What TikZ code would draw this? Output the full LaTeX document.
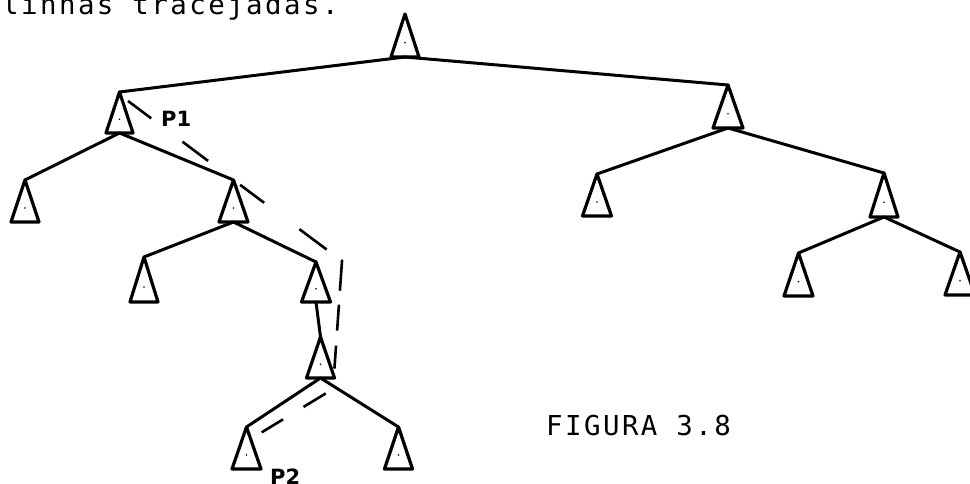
\documentclass[tikz,border=0pt]{standalone}
\usepackage{fontspec}
\newfontfamily\typew[LetterSpace=9]{DejaVu Sans Mono}
\newfontfamily\handlab{DejaVu Sans}

\tikzset{
  tri/.style={line width=3.2pt, line join=round},
  edge/.style={line width=3pt, line cap=round},
  route/.style={line width=2.6pt,
    dash pattern=on 29 off 39 on 32 off 40 on 30 off 44 on 34 off 18
                 on 31 off 14 on 26 off 15 on 23 off 29 on 26 off 24 on 25 off 200},
  caption/.style={font=\typew\fontsize{27.4}{30}\selectfont, inner sep=0pt, anchor=base west},
  plabel/.style={font=\handlab\bfseries\fontsize{21}{23}\selectfont, inner sep=0pt, anchor=base west}
}

% subtree triangle: name, x, apex y, base y, half base width
\newcommand\subtree[5]{%
  \coordinate (#1-a) at (#2,#3);
  \coordinate (#1-b) at (#2,#4);
  \draw[tri] (#1-a) -- (#2+#5,#4) -- (#2-#5,#4) -- cycle;
  \fill ({#2},{(#3+2*#4)/3}) circle (0.9);
}

\begin{document}
\begin{tikzpicture}[x=1pt,y=-1pt]
  \useasboundingbox (0,0) rectangle (970,484);

  % running text and caption
  \node[caption] (txt) at (2,15) {linhas tracejadas.};
  \node[caption] (cap) at (546,435) {FIGURA 3.8};

  % subtrees
  \subtree{root}{405}{14}{57}{14}
  \subtree{L}{119.5}{92}{133}{13.5}
  \subtree{R}{728}{85}{128}{15}
  \subtree{LL}{25}{180}{222}{14}
  \subtree{LR}{233.5}{180}{222}{14.5}
  \subtree{LRL}{144}{257}{302}{14}
  \subtree{LRR}{316}{262}{302}{14.5}
  \subtree{LRRC}{320.5}{337}{378}{14}
  \subtree{LRRCL}{246.5}{427}{469}{14.5}
  \subtree{LRRCR}{398.5}{427}{469}{14}
  \subtree{RL}{597}{174}{216}{14.5}
  \subtree{RR}{884}{173}{217}{14}
  \subtree{RRL}{798.5}{253}{296}{14.5}
  \subtree{RRR}{960}{252}{295}{15}

  % tree edges
  \draw[edge] (root-b) -- (L-a);
  \draw[edge] (root-b) -- (R-a);
  \draw[edge] (L-b) -- (LL-a);
  \draw[edge] (L-b) -- (LR-a);
  \draw[edge] (LR-b) -- (LRL-a);
  \draw[edge] (LR-b) -- (LRR-a);
  \draw[edge] (LRR-b) -- (LRRC-a);
  \draw[edge] (LRRC-b) -- (LRRCL-a);
  \draw[edge] (LRRC-b) -- (LRRCR-a);
  \draw[edge] (R-b) -- (RL-a);
  \draw[edge] (R-b) -- (RR-a);
  \draw[edge] (RR-b) -- (RRL-a);
  \draw[edge] (RR-b) -- (RRR-a);

  % dashed route from P1 to P2
  \coordinate (rs) at (128,101);
  \coordinate (rc1) at (342,261);
  \coordinate (rc2) at (333,389);
  \coordinate (re) at (259,434);
  \draw[route] (rs) -- (rc1) -- (rc2) -- (re);

  \node[plabel] (p1) at (161,127) {P1};
  \node[plabel] (p2) at (270,484.5) {P2};
\end{tikzpicture}
\end{document}
